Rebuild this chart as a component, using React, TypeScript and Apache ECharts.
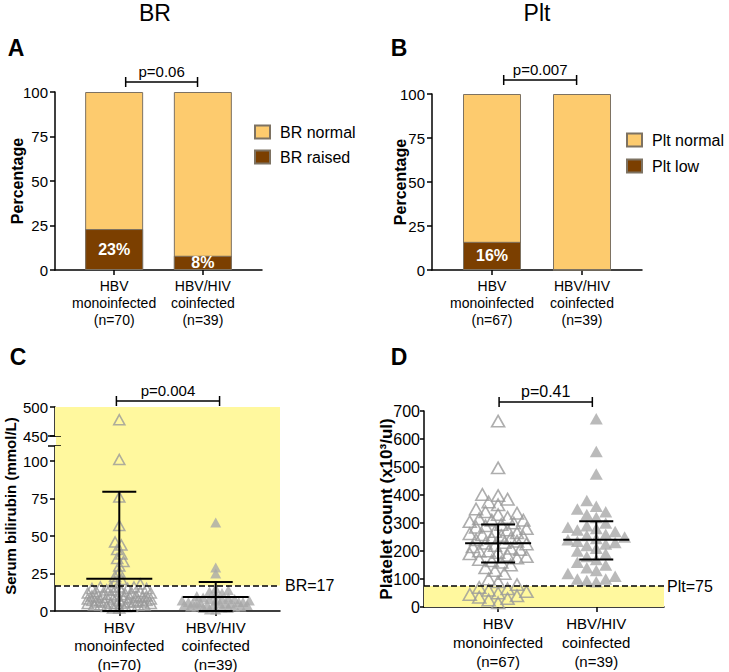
import React, { useEffect, useRef } from 'react';
import * as echarts from 'echarts';

// ---------- data ----------
const catPos = [1, 2];
const catLabelsA = ['HBV\nmonoinfected\n(n=70)', 'HBV/HIV\ncoinfected\n(n=39)'];
const catLabelsB = ['HBV\nmonoinfected\n(n=67)', 'HBV/HIV\ncoinfected\n(n=39)'];
const brRaised = [23, 8];
const brNormal = [77, 92];
const pltLowPct = [16, 0];
const pltNormalPct = [84, 100];
const pValues = ['p=0.06', 'p=0.007', 'p=0.004', 'p=0.41'];
const pctTicks = [0, 25, 50, 75, 100];
const bilTicksLow = [0, 25, 50, 75, 100];
const bilTicksHigh = [450, 500];
const pltTicks = [0, 100, 200, 300, 400, 500, 600, 700];
const bilMono = [478, 101, 76, 57, 46, 44, 41, 38, 35, 33, 30, 26, 23, 21, 19, 18,
  2, 2, 3, 3, 3, 4, 4, 4, 4, 5, 5, 5, 5, 5, 6, 6, 6, 6, 6, 7, 7, 7, 7, 7, 8, 8, 8, 8,
  9, 9, 9, 9, 10, 10, 10, 10, 11, 11, 11, 12, 12, 12, 13, 13, 13, 14, 14, 15, 15, 15, 16, 16, 16, 16];
const bilCo = [59, 29, 25, 1, 1, 2, 2, 2, 3, 3, 3, 3, 4, 4, 4, 4, 5, 5, 5, 5, 5, 6, 6, 6, 6,
  7, 7, 7, 8, 8, 8, 9, 9, 10, 11, 12, 13, 14, 15];
const bilMean = [21.5, 9.3];
const bilHigh = [79.5, 19.3];
const bilLow = [0, 0];
const pltMono = [664, 497, 402, 398, 385, 375, 365, 350, 340, 335, 330, 320, 315, 310, 305, 300,
  295, 290, 285, 280, 275, 270, 265, 262, 258, 255, 250, 245, 240, 235, 230, 228, 225, 220, 215,
  210, 205, 200, 195, 190, 185, 180, 175, 170, 165, 160, 150, 140, 130, 120, 100, 90, 80, 70, 65,
  60, 55, 50, 45, 40, 35, 30, 25, 15, 310, 245, 200];
const pltCo = [672, 555, 475, 380, 360, 350, 340, 330, 320, 300, 290, 285, 280, 275, 270, 260,
  255, 250, 245, 240, 235, 230, 225, 220, 210, 200, 190, 180, 170, 160, 150, 140, 130, 120, 110,
  100, 100, 95, 90];
const pltMean = [228, 240];
const pltHigh = [295, 306];
const pltLow = [159, 170];
const brThreshold = 17;
const pltThreshold = 75;

// ---------- styles / layout ----------
const FONT = '"Liberation Sans", Arial, Helvetica, sans-serif';
const LIGHT = '#FDCB6E';
const DARK = '#7B3F00';
const BORDER = '#7d7262';
const YELLOW = '#FFF89E';
const GREY_HOLLOW = '#9a9a9a';
const GREY_FILL = '#a9a9a9';

const G = {
  A: { left: 55, top: 92, width: 207, height: 178 },
  B: { left: 432, top: 94, width: 210, height: 176 },
  CU: { left: 55, top: 407, width: 225, height: 29 },
  CL: { left: 55, top: 446, width: 225, height: 165 },
  D: { left: 424, top: 411, width: 240, height: 196 },
};
const XR = [1 / 3, 8 / 3];
const XRD = [0.245, 2.69];
const C_LOW_MAX = 110;

function beeswarm(values: number[], center: number, pxX: number, pxY: number, yMin: number,
  diam: number, maxHalf: number): number[][] {
  const order = values.map((v, i) => ({ v, i })).sort((a, b) => a.v - b.v);
  const placed: { dx: number; py: number }[] = [];
  const out: number[][] = new Array(values.length);
  const step = diam * 0.35;
  order.forEach(({ v, i }, n) => {
    const py = (v - yMin) * pxY;
    const sgn = n % 2 === 0 ? 1 : -1;
    const cands = [0];
    for (let k = 1; k * step <= maxHalf; k++) cands.push(sgn * k * step, -sgn * k * step);
    let best = 0;
    let bestScore = -Infinity;
    for (const dx of cands) {
      let minD = Infinity;
      for (const p of placed) {
        const d = Math.hypot(dx - p.dx, py - p.py);
        if (d < minD) minD = d;
      }
      if (minD >= diam) { best = dx; break; }
      if (minD > bestScore) { bestScore = minD; best = dx; }
    }
    placed.push({ dx: best, py });
    out[i] = [center + best / pxX, v];
  });
  return out;
}

function xAxisCfg(gridIndex: number, labels: string[], fontSize: number, lineHeight: number,
  range: number[], show = true) {
  return {
    type: 'value', gridIndex, min: range[0], max: range[1], show,
    splitLine: { show: false },
    axisLine: { show: true, onZero: false, lineStyle: { color: '#000', width: 1.5 } },
    axisTick: { show: true, customValues: catPos, length: 5, lineStyle: { color: '#000', width: 1.5 } },
    axisLabel: {
      customValues: catPos, fontSize, lineHeight, color: '#000', margin: 7, fontFamily: FONT,
      formatter: (v: number) => labels[catPos.indexOf(v)] ?? '',
    },
  };
}

function yAxisCfg(gridIndex: number, min: number, max: number, ticks: number[], fontSize: number,
  extra: any = {}, tickLen = 5, labelMargin = 7) {
  return {
    type: 'value', gridIndex, min, max,
    splitLine: { show: false },
    axisLine: { show: true, onZero: false, lineStyle: { color: '#000', width: 1.5 } },
    axisTick: { show: true, customValues: ticks, length: tickLen, lineStyle: { color: '#000', width: 1.5 } },
    axisLabel: { customValues: ticks, fontSize, color: '#000', margin: labelMargin, fontFamily: FONT },
    nameMoveOverlap: false,
    ...extra,
  };
}

function errorBarSeries(xIdx: number, yIdx: number, means: number[], lows: number[], highs: number[],
  cap: number, meanHalf: number) {
  return {
    type: 'custom', xAxisIndex: xIdx, yAxisIndex: yIdx, z: 5,
    encode: { x: 0, y: [1, 2, 3] },
    data: catPos.map((x, i) => [x, means[i], lows[i], highs[i]]),
    renderItem: (params: any, api: any) => {
      const x = api.value(0);
      const pm = api.coord([x, api.value(1)]);
      const pl = api.coord([x, api.value(2)]);
      const ph = api.coord([x, api.value(3)]);
      const st = { stroke: '#000', lineWidth: 2 };
      return {
        type: 'group',
        children: [
          { type: 'line', shape: { x1: pm[0], y1: ph[1], x2: pm[0], y2: pl[1] }, style: st },
          { type: 'line', shape: { x1: pm[0] - cap, y1: ph[1], x2: pm[0] + cap, y2: ph[1] }, style: st },
          { type: 'line', shape: { x1: pm[0] - cap, y1: pl[1], x2: pm[0] + cap, y2: pl[1] }, style: st },
          { type: 'line', shape: { x1: pm[0] - meanHalf, y1: pm[1], x2: pm[0] + meanHalf, y2: pm[1] }, style: st },
        ],
      };
    },
  };
}

function barLabel() {
  return {
    show: true, position: 'inside', color: '#fff', fontWeight: 'bold', fontSize: 16, fontFamily: FONT,
    formatter: (p: any) => (p.value[1] > 0 ? p.value[1] + '%' : ''),
  };
}

// stacked bars: lower segment drawn over the cumulative total bar
function stackedBars(xIdx: number, lowerName: string, upperName: string, lower: number[], upper: number[]) {
  return [
    {
      type: 'bar', name: upperName, xAxisIndex: xIdx, yAxisIndex: xIdx, barWidth: 58, barGap: '-100%', z: 2,
      data: catPos.map((x, i) => [x, lower[i] + upper[i]]),
      itemStyle: { color: LIGHT, borderColor: BORDER, borderWidth: 1 },
    },
    {
      type: 'bar', name: lowerName, xAxisIndex: xIdx, yAxisIndex: xIdx, barWidth: 58, barGap: '-100%', z: 3,
      data: catPos.map((x, i) => [x, lower[i]]),
      itemStyle: { color: DARK, borderColor: BORDER, borderWidth: 1 }, label: barLabel(),
    },
  ];
}

function buildOption() {
  const pxXC = G.CL.width / (XR[1] - XR[0]);
  const pxXD = G.D.width / (XRD[1] - XRD[0]);
  const pxYCL = G.CL.height / C_LOW_MAX;
  const pxYCU = G.CU.height / (500 - 450);
  const pxYD = G.D.height / 700;

  const monoUp = bilMono.filter((v) => v >= 450);
  const monoLo = bilMono.filter((v) => v < 450);
  const coUp = bilCo.filter((v) => v >= 450);
  const coLo = bilCo.filter((v) => v < 450);

  const hollow = { color: 'rgba(0,0,0,0)', borderColor: GREY_HOLLOW, borderWidth: 1.6 };
  const filled = { color: GREY_FILL };

  const grids = [G.A, G.B, G.CU, G.CL, G.D].map((g) => ({ ...g, containLabel: false, outerBoundsMode: 'none' }));

  return {
    animation: false,
    textStyle: { fontFamily: FONT },
    grid: grids,
    legend: [
      {
        data: ['BR normal', 'BR raised'], orient: 'vertical', left: 249, top: 119,
        itemWidth: 15, itemHeight: 13, itemGap: 9, icon: 'rect', selectedMode: false,
        textStyle: { fontSize: 16, color: '#000', fontFamily: FONT, padding: [0, 0, 0, 5] },
      },
      {
        data: ['Plt normal', 'Plt low'], orient: 'vertical', left: 621, top: 127,
        itemWidth: 15, itemHeight: 13, itemGap: 10, icon: 'rect', selectedMode: false,
        textStyle: { fontSize: 16, color: '#000', fontFamily: FONT, padding: [0, 0, 0, 5] },
      },
    ],
    xAxis: [
      xAxisCfg(0, catLabelsA, 14, 17, XR),
      xAxisCfg(1, catLabelsB, 14, 17, XR),
      xAxisCfg(2, catLabelsA, 15, 18, XR, false),
      xAxisCfg(3, catLabelsA, 15, 18.5, XR),
      xAxisCfg(4, catLabelsB, 15, 19, XRD),
    ],
    yAxis: [
      yAxisCfg(0, 0, 100, pctTicks, 15, {
        name: 'Percentage', nameLocation: 'middle', nameGap: 30,
        nameTextStyle: { fontSize: 16, fontWeight: 'bold', color: '#000', fontFamily: FONT },
      }),
      yAxisCfg(1, 0, 100, pctTicks, 15, {
        name: 'Percentage', nameLocation: 'middle', nameGap: 24,
        nameTextStyle: { fontSize: 16, fontWeight: 'bold', color: '#000', fontFamily: FONT },
      }),
      yAxisCfg(2, 450, 500, bilTicksHigh, 15),
      yAxisCfg(3, 0, C_LOW_MAX, bilTicksLow, 15),
      yAxisCfg(4, 0, 700, pltTicks, 16, {
        name: 'Platelet count (x10³/ul)', nameLocation: 'middle', nameGap: 29,
        nameTextStyle: { fontSize: 17, fontWeight: 'bold', color: '#000', fontFamily: FONT },
      }, 4, 4),
    ],
    series: [
      ...stackedBars(0, 'BR raised', 'BR normal', brRaised, brNormal),
      ...stackedBars(1, 'Plt low', 'Plt normal', pltLowPct, pltNormalPct),
      // Panel C upper segment
      {
        type: 'scatter', xAxisIndex: 2, yAxisIndex: 2, symbol: 'triangle', symbolSize: [11, 10],
        data: beeswarm(monoUp, 1, pxXC, pxYCU, 450, 6, 32), itemStyle: hollow, z: 3,
        markArea: { silent: true, itemStyle: { color: YELLOW }, data: [[{ yAxis: 450 }, { yAxis: 500 }]] },
      },
      {
        type: 'scatter', xAxisIndex: 2, yAxisIndex: 2, symbol: 'triangle', symbolSize: [11, 10],
        data: beeswarm(coUp, 2, pxXC, pxYCU, 450, 6, 34), itemStyle: filled, z: 3,
      },
      // Panel C lower segment
      {
        type: 'scatter', xAxisIndex: 3, yAxisIndex: 3, symbol: 'triangle', symbolSize: [11, 10],
        data: beeswarm(monoLo, 1, pxXC, pxYCL, 0, 6, 32), itemStyle: hollow, z: 3,
        markArea: { silent: true, itemStyle: { color: YELLOW }, data: [[{ yAxis: brThreshold }, { yAxis: C_LOW_MAX }]] },
        markLine: {
          silent: true, symbol: ['none', 'none'],
          lineStyle: { type: [6, 3], color: '#000', width: 1.5 },
          label: { position: 'end', formatter: 'BR=' + brThreshold, color: '#000', fontSize: 16, fontFamily: FONT, distance: 5 },
          data: [{ yAxis: brThreshold }],
        },
      },
      {
        type: 'scatter', xAxisIndex: 3, yAxisIndex: 3, symbol: 'triangle', symbolSize: [11, 10],
        data: beeswarm(coLo, 2, pxXC, pxYCL, 0, 6, 34), itemStyle: filled, z: 3,
      },
      errorBarSeries(3, 3, bilMean, bilLow, bilHigh, 17, 33),
      // Panel D
      {
        type: 'scatter', xAxisIndex: 4, yAxisIndex: 4, symbol: 'triangle', symbolSize: [13, 11.5],
        data: beeswarm(pltMono, 1, pxXD, pxYD, 0, 9, 31), itemStyle: hollow, z: 3,
        markArea: { silent: true, itemStyle: { color: YELLOW }, data: [[{ yAxis: 0 }, { yAxis: pltThreshold }]] },
        markLine: {
          silent: true, symbol: ['none', 'none'],
          lineStyle: { type: [6, 3], color: '#000', width: 1.5 },
          label: { position: 'end', formatter: 'Plt=' + pltThreshold, color: '#000', fontSize: 16, fontFamily: FONT, distance: 3 },
          data: [{ yAxis: pltThreshold }],
        },
      },
      {
        type: 'scatter', xAxisIndex: 4, yAxisIndex: 4, symbol: 'triangle', symbolSize: [13, 11.5],
        data: beeswarm(pltCo, 2, pxXD, pxYD, 0, 9, 32), itemStyle: filled, z: 3,
      },
      errorBarSeries(4, 4, pltMean, pltLow, pltHigh, 17, 33),
    ],
  };
}

function buildGraphic(chart: any) {
  const px = (g: number, v: number[]) => chart.convertToPixel({ gridIndex: g }, v);
  const els: any[] = [];
  const txt = (x: number, y: number, text: string, size: number, weight = 'normal', extra: any = {}) => ({
    type: 'text', x, y, ...extra,
    style: { text, fontSize: size, fontWeight: weight, fontFamily: FONT, fill: '#000', align: 'center', verticalAlign: 'middle' },
  });
  // titles and panel letters
  els.push(txt(155, 13, 'BR', 23));
  els.push(txt(537, 13, 'Plt', 23));
  els.push(txt(16, 48, 'A', 23, 'bold'));
  els.push(txt(399, 48, 'B', 23, 'bold'));
  els.push(txt(18, 357, 'C', 23, 'bold'));
  els.push(txt(399, 357, 'D', 23, 'bold'));
  // C axis name
  els.push(txt(10, 506, 'Serum bilirubin (mmol/L)', 15, 'bold', { rotation: Math.PI / 2 }));

  // significance brackets
  const brackets = [
    { grid: 0, x1: 1.13, x2: 1.94, top: G.A.top, dy: -10, text: pValues[0], size: 15 },
    { grid: 1, x1: 1.13, x2: 1.94, top: G.B.top, dy: -14, text: pValues[1], size: 15 },
    { grid: 2, x1: 0.97, x2: 2.04, top: G.CU.top, dy: -6, text: pValues[2], size: 15 },
    { grid: 4, x1: 1.01, x2: 1.96, top: G.D.top, dy: -9, text: pValues[3], size: 16 },
  ];
  for (const b of brackets) {
    const a = px(b.grid, [b.x1, 0])[0];
    const c = px(b.grid, [b.x2, 0])[0];
    const y = b.top + b.dy;
    const st = { stroke: '#000', lineWidth: 1.5 };
    els.push({ type: 'line', shape: { x1: a, y1: y, x2: c, y2: y }, style: st });
    els.push({ type: 'line', shape: { x1: a, y1: y - 5, x2: a, y2: y + 5 }, style: st });
    els.push({ type: 'line', shape: { x1: c, y1: y - 5, x2: c, y2: y + 5 }, style: st });
    els.push({
      type: 'text', x: (a + c) / 2, y: y - 3,
      style: { text: b.text, fontSize: b.size, fontFamily: FONT, fill: '#000', align: 'center', verticalAlign: 'bottom' },
    });
  }

  // broken axis gap fill and break marks in C
  const upBottom = px(2, [XR[0], 450]);
  const lowTop = px(3, [XR[1], C_LOW_MAX]);
  els.push({
    type: 'rect', z: 0,
    shape: { x: upBottom[0] + 1, y: upBottom[1], width: lowTop[0] - upBottom[0] - 1, height: lowTop[1] - upBottom[1] },
    style: { fill: YELLOW },
  });
  const bst = { stroke: '#000', lineWidth: 1.5 };
  els.push({ type: 'line', shape: { x1: upBottom[0] - 7, y1: upBottom[1], x2: upBottom[0] + 6, y2: upBottom[1] }, style: bst });
  els.push({ type: 'line', shape: { x1: upBottom[0] - 7, y1: lowTop[1], x2: upBottom[0] + 6, y2: lowTop[1] }, style: bst });
  return els;
}

export default function App() {
  const ref = useRef<HTMLDivElement>(null);
  useEffect(() => {
    const chart = echarts.init(ref.current!, null, { renderer: 'svg' });
    chart.setOption(buildOption() as any);
    chart.setOption({ graphic: buildGraphic(chart) } as any);
    return () => chart.dispose();
  }, []);
  return (
    <div
      ref={ref}
      style={{ position: 'fixed', left: 0, top: 0, width: 729, height: 672, background: '#fff' }}
    />
  );
}
